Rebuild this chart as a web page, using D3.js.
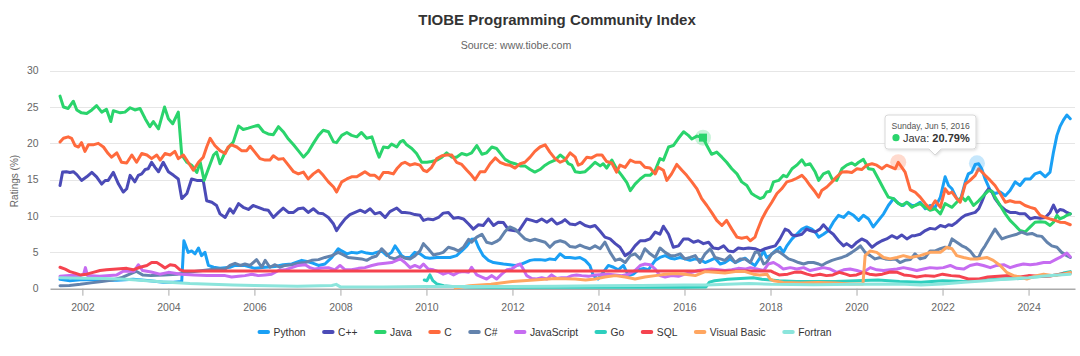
<!DOCTYPE html>
<html><head><meta charset="utf-8">
<script src="https://cdn.jsdelivr.net/npm/d3@7"></script>
<style>
body{margin:0;background:#fff;}
svg{display:block;font-family:"Liberation Sans",Arial,Helvetica,sans-serif;}
</style></head><body>
<svg id="chart" width="1080" height="356"></svg>
<script>
// ---------------- DATA (decimal year, rating %) ----------------
const seriesNames = ["Python","C++","Java","C","C#","JavaScript","Go","SQL","Visual Basic","Fortran"];

const python = [[2001.48,1.3],[2001.71,1.1],[2002.02,1.25],[2002.41,1.15],[2002.80,1.15],[2003.18,1.3],[2003.57,1.1],[2003.88,0.9],[2004.12,0.9],[2004.31,1.0],[2004.36,6.6],[2004.46,5.0],[2004.54,5.2],[2004.62,4.8],[2004.70,5.6],[2004.77,4.55],[2004.85,5.0],[2004.93,3.2],[2005.05,2.95],[2005.20,2.8],[2005.43,2.95],
[2005.55,3.2],[2005.78,3.2],[2006.01,2.8],[2006.25,2.95],[2006.48,3.05],[2006.67,3.3],[2006.87,3.4],[2007.10,3.9],[2007.25,3.7],[2007.37,3.5],[2007.49,3.2],[2007.64,3.4],[2007.80,4.3],[2007.95,5.5],[2008.03,5.2],[2008.15,4.8],[2008.26,5.0],[2008.38,4.9],[2008.49,5.1],[2008.61,4.9],[2008.73,4.8],[2008.84,5.0],[2008.96,5.2],[2009.08,4.55],[2009.19,5.0],[2009.27,5.9],[2009.35,5.2],[2009.42,4.55],[2009.50,4.3],
[2009.62,4.3],[2009.73,5.0],[2009.85,4.8],[2009.97,4.3],[2010.08,4.2],[2010.24,4.3],[2010.39,4.3],[2010.55,4.3],[2010.70,4.55],[2010.82,5.2],[2010.94,5.9],[2011.05,6.8],[2011.13,6.85],[2011.21,5.7],[2011.32,4.55],[2011.44,3.9],[2011.56,3.6],[2011.67,3.5],[2011.79,3.4],[2011.94,3.3],[2012.06,3.2],[2012.18,3.3],[2012.29,3.6],[2012.41,3.9],[2012.52,4.0],[2012.64,4.0],[2012.76,3.9],[2012.87,4.1],[2012.99,4.0],[2013.11,4.8],[2013.22,4.3],[2013.34,4.3],[2013.46,4.2],
[2013.57,4.3],[2013.69,3.9],[2013.80,3.2],[2013.88,1.8],[2013.99,1.33],[2014.11,2.25],[2014.23,3.2],[2014.35,2.95],[2014.46,2.6],[2014.58,3.2],[2014.70,1.8],[2014.81,2.0],[2014.93,2.6],[2015.05,2.8],[2015.16,2.6],[2015.32,3.9],[2015.43,4.3],[2015.55,4.55],[2015.67,4.2],[2015.78,4.1],[2015.90,4.3],[2016.01,4.1],[2016.13,3.9],[2016.25,4.1],[2016.36,4.0],[2016.48,3.6],[2016.60,3.9],[2016.71,4.2],[2016.83,3.4],[2016.94,3.6],[2017.06,4.1],[2017.18,3.6],[2017.29,3.9],[2017.41,4.2],[2017.53,3.6],[2017.64,3.2],
[2017.76,4.3],[2017.84,5.2],[2017.91,4.3],[2017.99,4.55],[2018.11,5.2],[2018.22,5.7],[2018.30,5.0],[2018.38,5.9],[2018.50,6.85],[2018.61,7.5],[2018.73,8.2],[2018.84,8.5],[2018.96,8.2],[2019.04,7.8],[2019.12,7.1],[2019.23,7.5],[2019.35,8.0],[2019.46,9.15],[2019.58,10.1],[2019.70,9.8],[2019.81,10.5],[2019.93,10.1],[2020.05,9.4],[2020.16,10.1],[2020.28,9.6],[2020.39,8.5],[2020.51,9.4],[2020.63,10.3],[2020.74,11.45],[2020.86,12.4],[2020.98,11.7],[2021.09,11.45],[2021.17,11.9],[2021.29,11.45],
[2021.36,11.45],[2021.48,11.9],[2021.60,11.0],[2021.71,11.45],[2021.83,11.2],[2021.95,12.6],[2022.06,15.4],[2022.14,14.2],[2022.22,13.75],[2022.33,12.4],[2022.41,12.1],[2022.53,14.7],[2022.60,15.8],[2022.68,16.05],[2022.76,17.1],[2022.84,17.2],[2022.91,16.5],[2022.99,15.1],[2023.11,13.5],[2023.22,13.1],[2023.34,13.3],[2023.46,12.8],[2023.57,13.5],[2023.69,14.7],[2023.80,14.2],[2023.92,15.1],[2024.04,15.1],[2024.15,15.8],[2024.27,16.05],[2024.39,15.4],[2024.50,16.05],[2024.58,18.8],[2024.66,21.1],[2024.73,22.3],[2024.81,23.2],[2024.89,23.9],[2024.97,23.4]];

const cpp = [[2001.48,14.2],[2001.54,16.05],[2001.63,16.1],[2001.71,16.0],[2001.79,16.1],[2001.87,15.7],[2001.98,14.9],[2002.10,15.4],[2002.22,16.0],[2002.33,15.4],[2002.45,14.4],[2002.53,14.9],[2002.60,14.9],[2002.72,16.0],[2002.84,14.4],[2002.95,13.3],[2003.03,13.75],[2003.11,15.6],[2003.22,14.7],[2003.30,15.6],[2003.38,15.8],[2003.46,16.4],[2003.53,16.5],[2003.61,17.4],[2003.69,16.7],[2003.77,16.1],[2003.88,17.4],[2004.0,16.1],[2004.12,15.6],[2004.23,15.1],[2004.31,12.4],[2004.43,13.1],[2004.54,15.1],[2004.66,14.9],[2004.81,14.9],[2004.89,12.1],[2005.01,11.9],[2005.12,11.45],[2005.20,10.3],[2005.32,9.8],
[2005.43,11.0],[2005.51,10.4],[2005.63,11.7],[2005.74,11.2],[2005.86,10.9],[2005.97,11.45],[2006.09,11.2],[2006.21,10.9],[2006.32,10.8],[2006.44,9.8],[2006.56,10.5],[2006.67,11.1],[2006.79,10.5],[2006.91,10.5],[2007.02,11.0],[2007.14,11.1],[2007.25,10.5],[2007.37,11.0],[2007.49,10.4],[2007.60,10.3],[2007.72,9.8],[2007.84,8.9],[2007.91,8.0],[2007.99,8.7],[2008.11,9.6],[2008.22,10.2],[2008.34,10.5],[2008.46,10.8],[2008.57,10.5],[2008.69,11.0],[2008.80,10.3],[2008.92,10.5],[2009.04,9.8],[2009.15,10.6],[2009.31,11.1],[2009.42,10.5],
[2009.50,10.5],[2009.62,10.4],[2009.73,10.2],[2009.85,10.1],[2009.93,9.4],[2010.04,9.6],[2010.16,9.5],[2010.28,9.8],[2010.39,10.4],[2010.51,10.5],[2010.63,9.7],[2010.74,9.8],[2010.86,9.6],[2010.98,8.9],[2011.09,8.2],[2011.21,8.8],[2011.32,8.7],[2011.44,9.6],[2011.56,8.7],[2011.67,9.15],[2011.79,9.1],[2011.91,8.1],[2012.02,8.0],[2012.14,7.9],[2012.21,8.5],[2012.33,9.6],[2012.45,9.4],[2012.56,9.2],[2012.68,9.6],[2012.80,9.15],[2012.91,9.6],[2013.03,8.9],[2013.14,9.15],[2013.22,9.5],[2013.34,8.9],[2013.46,8.8],
[2013.57,9.15],[2013.69,8.7],[2013.80,8.5],[2013.92,8.7],[2014.04,7.9],[2014.15,7.1],[2014.27,6.85],[2014.39,6.2],[2014.50,5.7],[2014.62,4.55],[2014.74,5.0],[2014.85,5.9],[2014.97,6.6],[2015.08,6.6],[2015.20,6.85],[2015.32,7.8],[2015.43,7.5],[2015.51,8.6],[2015.63,7.5],[2015.74,5.7],[2015.86,5.9],[2015.98,6.85],[2016.09,6.85],[2016.21,6.4],[2016.32,6.6],[2016.44,6.2],[2016.56,6.4],[2016.67,5.6],[2016.79,5.5],[2016.91,5.9],[2017.02,5.2],[2017.14,5.1],[2017.25,5.6],[2017.37,5.5],[2017.49,5.6],[2017.64,5.5],
[2017.76,5.2],[2017.87,5.5],[2017.99,5.7],[2018.11,5.9],[2018.22,6.85],[2018.34,8.2],[2018.42,8.0],[2018.50,7.4],[2018.61,7.3],[2018.73,7.5],[2018.84,8.2],[2018.92,8.0],[2019.04,7.8],[2019.15,8.2],[2019.23,8.8],[2019.35,8.0],[2019.46,7.5],[2019.58,6.6],[2019.70,5.9],[2019.77,6.2],[2019.89,5.7],[2020.01,6.4],[2020.12,6.85],[2020.24,6.5],[2020.36,5.7],[2020.47,6.2],[2020.59,6.6],[2020.70,6.85],[2020.82,7.3],[2020.94,6.95],[2021.05,7.4],[2021.17,6.85],[2021.29,7.3],
[2021.36,7.3],[2021.48,7.5],[2021.60,8.0],[2021.71,8.3],[2021.83,8.2],[2021.95,8.7],[2022.06,8.5],[2022.14,8.8],[2022.22,8.7],[2022.33,9.15],[2022.45,9.8],[2022.53,10.1],[2022.64,10.3],[2022.76,10.5],[2022.84,11.0],[2022.91,11.9],[2022.99,13.1],[2023.07,13.75],[2023.15,13.3],[2023.22,12.4],[2023.34,11.45],[2023.46,10.8],[2023.57,10.5],[2023.69,10.5],[2023.80,10.3],[2023.92,10.3],[2024.04,9.6],[2024.15,9.8],[2024.27,9.7],[2024.39,9.8],[2024.50,10.5],[2024.58,11.5],[2024.66,10.5],[2024.73,10.9],[2024.81,10.8],[2024.89,10.5],[2024.97,10.3]];

const java = [[2001.48,26.5],[2001.56,25.0],[2001.67,24.8],[2001.79,25.8],[2001.87,24.6],[2001.98,24.2],[2002.10,24.1],[2002.22,24.6],[2002.33,25.2],[2002.45,24.3],[2002.56,24.7],[2002.66,23.0],[2002.72,24.5],[2002.88,24.2],[2002.99,24.3],[2003.11,24.9],[2003.22,24.6],[2003.34,24.8],[2003.46,23.4],[2003.57,22.3],[2003.65,23.0],[2003.77,22.0],[2003.91,25.0],[2004.0,23.4],[2004.10,22.7],[2004.23,24.3],[2004.31,18.4],[2004.43,17.4],[2004.54,17.0],[2004.66,16.0],[2004.74,17.4],[2004.83,14.9],[2004.93,16.5],[2005.05,18.4],[2005.12,18.8],[2005.20,17.2],[2005.32,18.8],[2005.43,19.7],
[2005.51,20.2],[2005.63,22.4],[2005.74,21.9],[2005.86,22.1],[2005.97,22.3],[2006.09,22.5],[2006.21,21.6],[2006.32,21.3],[2006.44,21.2],[2006.56,22.3],[2006.67,21.6],[2006.79,20.6],[2006.91,19.8],[2007.02,19.0],[2007.14,18.1],[2007.25,18.8],[2007.37,20.0],[2007.49,21.1],[2007.60,21.8],[2007.72,21.6],[2007.84,20.2],[2007.91,20.1],[2008.03,21.1],[2008.15,21.5],[2008.26,21.1],[2008.38,20.9],[2008.49,21.5],[2008.61,20.7],[2008.73,20.9],[2008.84,19.0],[2008.90,18.1],[2009.0,19.5],[2009.11,19.4],[2009.19,19.9],[2009.31,19.5],[2009.39,20.2],
[2009.46,20.4],[2009.54,19.8],[2009.66,19.3],[2009.77,18.6],[2009.89,17.4],[2010.01,17.4],[2010.12,17.5],[2010.24,17.7],[2010.36,18.1],[2010.47,18.7],[2010.59,18.1],[2010.70,18.1],[2010.82,18.6],[2010.94,18.4],[2011.05,18.7],[2011.17,19.7],[2011.29,18.5],[2011.40,18.7],[2011.52,19.5],[2011.63,19.3],[2011.71,18.7],[2011.83,17.8],[2011.94,17.4],[2012.06,17.2],[2012.18,16.9],[2012.29,16.9],[2012.41,16.4],[2012.52,16.05],[2012.64,16.4],[2012.76,17.0],[2012.87,17.4],[2012.99,17.7],[2013.11,18.4],[2013.22,17.9],[2013.30,17.2],[2013.38,17.0],[2013.46,16.1],
[2013.57,16.0],[2013.69,16.1],[2013.80,16.7],[2013.92,17.4],[2014.04,16.9],[2014.11,17.2],[2014.19,16.6],[2014.31,17.7],[2014.42,16.5],[2014.54,15.6],[2014.66,14.6],[2014.74,13.5],[2014.85,14.4],[2014.97,15.1],[2015.08,15.6],[2015.20,15.6],[2015.32,16.3],[2015.43,17.9],[2015.51,17.7],[2015.63,19.5],[2015.74,19.7],[2015.86,20.7],[2015.98,21.6],[2016.09,21.1],[2016.17,20.6],[2016.29,21.0],[2016.43,20.79],[2016.52,19.7],[2016.63,18.5],[2016.75,18.8],[2016.87,18.1],[2016.98,17.4],[2017.10,16.5],[2017.22,15.8],[2017.33,14.7],[2017.45,14.2],[2017.56,13.1],
[2017.64,12.8],[2017.76,12.4],[2017.84,12.6],[2017.91,13.3],[2017.99,13.4],[2018.07,14.7],[2018.19,14.9],[2018.30,15.6],[2018.38,15.4],[2018.50,16.5],[2018.61,17.0],[2018.73,17.75],[2018.81,17.0],[2018.92,17.2],[2019.04,16.05],[2019.12,14.9],[2019.23,15.8],[2019.35,16.1],[2019.43,15.1],[2019.54,14.9],[2019.66,16.5],[2019.77,17.0],[2019.89,17.3],[2019.97,17.0],[2020.05,17.4],[2020.16,17.8],[2020.28,16.5],[2020.39,16.4],[2020.51,15.1],[2020.63,13.75],[2020.74,12.6],[2020.86,12.4],[2020.94,11.9],[2021.05,11.45],[2021.17,11.9],[2021.29,11.2],
[2021.36,11.45],[2021.48,11.7],[2021.60,11.2],[2021.71,10.8],[2021.83,11.0],[2021.95,10.3],[2022.06,11.7],[2022.14,11.45],[2022.22,11.2],[2022.33,11.9],[2022.45,12.6],[2022.53,12.1],[2022.60,12.6],[2022.72,11.45],[2022.84,12.1],[2022.95,12.8],[2023.07,13.5],[2023.15,13.4],[2023.22,12.6],[2023.34,11.45],[2023.46,10.3],[2023.57,9.4],[2023.69,8.7],[2023.80,8.0],[2023.92,7.8],[2024.04,8.5],[2024.15,9.15],[2024.27,9.2],[2024.39,9.15],[2024.50,8.7],[2024.58,9.15],[2024.66,10.1],[2024.73,9.6],[2024.81,9.8],[2024.89,10.1],[2024.97,10.3]];

const cLang = [[2001.48,20.2],[2001.56,20.7],[2001.67,20.9],[2001.75,20.7],[2001.83,19.7],[2001.91,19.5],[2001.98,20.1],[2002.06,18.9],[2002.14,19.8],[2002.25,19.8],[2002.37,20.0],[2002.49,19.5],[2002.60,18.6],[2002.68,18.1],[2002.80,18.7],[2002.91,17.4],[2003.03,17.3],[2003.15,18.4],[2003.26,17.4],[2003.38,18.6],[2003.50,18.4],[2003.61,17.9],[2003.73,18.4],[2003.81,17.7],[2003.92,18.6],[2004.04,18.4],[2004.15,18.9],[2004.23,17.9],[2004.35,18.4],[2004.46,17.4],[2004.58,16.3],[2004.70,17.4],[2004.81,18.1],[2004.89,19.5],[2004.97,20.7],[2005.08,19.7],[2005.20,19.0],[2005.32,18.6],
[2005.39,19.5],[2005.47,19.8],[2005.59,19.5],[2005.70,19.0],[2005.82,19.0],[2005.90,19.6],[2006.01,18.8],[2006.13,17.9],[2006.25,17.7],[2006.36,17.7],[2006.44,18.3],[2006.56,17.8],[2006.67,17.9],[2006.79,17.0],[2006.91,16.1],[2007.02,15.8],[2007.14,16.05],[2007.25,15.1],[2007.37,15.8],[2007.49,16.3],[2007.60,15.6],[2007.72,14.7],[2007.84,14.0],[2007.91,13.3],[2008.03,14.7],[2008.15,15.1],[2008.26,15.4],[2008.38,15.4],[2008.49,15.8],[2008.57,16.1],[2008.69,15.6],[2008.80,15.6],[2008.90,15.1],[2009.0,16.0],[2009.11,16.0],[2009.23,15.8],[2009.31,16.5],[2009.42,17.2],
[2009.50,17.4],[2009.62,17.0],[2009.73,17.2],[2009.85,17.0],[2009.93,16.3],[2010.01,16.1],[2010.12,16.7],[2010.24,17.9],[2010.36,18.3],[2010.47,18.4],[2010.59,18.4],[2010.70,17.4],[2010.82,17.1],[2010.94,16.3],[2011.05,15.6],[2011.13,15.0],[2011.25,16.1],[2011.36,16.1],[2011.48,17.2],[2011.60,18.0],[2011.71,17.4],[2011.83,17.1],[2011.94,17.0],[2012.06,16.6],[2012.18,17.2],[2012.29,17.4],[2012.41,18.1],[2012.52,18.9],[2012.64,19.5],[2012.76,19.8],[2012.87,18.8],[2012.99,17.9],[2013.11,17.4],[2013.22,17.7],[2013.34,18.7],[2013.46,18.1],
[2013.53,17.0],[2013.61,17.2],[2013.73,18.1],[2013.84,18.0],[2013.96,18.4],[2014.08,18.4],[2014.19,17.5],[2014.31,17.3],[2014.42,16.05],[2014.50,17.0],[2014.62,16.7],[2014.74,17.7],[2014.85,17.4],[2014.97,17.4],[2015.08,16.7],[2015.20,16.6],[2015.32,15.8],[2015.39,16.7],[2015.51,16.3],[2015.59,14.9],[2015.70,15.8],[2015.82,17.1],[2015.94,16.3],[2016.05,15.6],[2016.17,14.7],[2016.29,13.75],[2016.40,12.4],[2016.52,11.45],[2016.63,10.5],[2016.75,9.4],[2016.87,8.7],[2016.98,9.4],[2017.10,8.2],[2017.22,7.1],[2017.33,6.95],[2017.45,7.1],[2017.53,6.6],[2017.64,7.1],
[2017.68,7.8],[2017.80,9.6],[2017.91,10.8],[2018.03,11.9],[2018.15,13.1],[2018.26,13.75],[2018.38,14.7],[2018.50,14.9],[2018.61,15.2],[2018.73,15.6],[2018.81,15.1],[2018.92,14.2],[2019.04,13.3],[2019.12,12.6],[2019.19,13.5],[2019.31,14.0],[2019.43,14.7],[2019.54,15.4],[2019.66,16.05],[2019.77,16.1],[2019.89,16.0],[2020.01,16.5],[2020.12,16.4],[2020.24,17.0],[2020.36,17.2],[2020.47,17.0],[2020.59,16.5],[2020.70,17.0],[2020.82,16.7],[2020.90,16.5],[2020.97,17.4],[2021.13,16.05],[2021.25,13.6],
[2021.36,13.3],[2021.48,12.6],[2021.60,11.7],[2021.71,11.0],[2021.83,12.1],[2021.95,11.2],[2022.06,13.75],[2022.14,13.1],[2022.22,13.3],[2022.33,12.4],[2022.41,11.9],[2022.53,14.4],[2022.64,14.9],[2022.76,15.6],[2022.84,16.5],[2022.91,16.1],[2022.99,15.6],[2023.11,14.9],[2023.22,14.2],[2023.34,13.1],[2023.46,11.9],[2023.57,12.1],[2023.69,11.9],[2023.80,11.9],[2023.92,11.45],[2024.04,11.2],[2024.15,11.0],[2024.27,10.1],[2024.39,9.8],[2024.50,9.6],[2024.62,9.4],[2024.73,9.15],[2024.85,9.1],[2024.97,8.8]];

const csharp = [[2001.48,0.4],[2001.70,0.45],[2001.95,0.6],[2002.20,0.8],[2002.45,1.0],[2002.70,1.2],[2002.90,1.5],[2003.10,2.0],[2003.25,2.4],[2003.40,1.9],[2003.60,1.8],[2003.90,1.9],[2004.20,2.0],[2004.50,2.3],[2004.80,2.5],[2005.10,2.7],[2005.32,2.7],
[2005.43,3.2],[2005.55,3.5],[2005.67,3.2],[2005.78,3.4],[2005.90,3.2],[2006.05,4.0],[2006.17,2.95],[2006.25,3.9],[2006.36,2.95],[2006.48,3.3],[2006.59,2.95],[2006.71,3.2],[2006.87,3.3],[2007.02,3.5],[2007.18,3.6],[2007.33,3.9],[2007.49,4.0],[2007.64,4.3],[2007.80,4.55],[2007.95,5.0],[2008.07,4.65],[2008.18,4.3],[2008.34,4.2],[2008.49,4.1],[2008.61,3.9],[2008.73,4.3],[2008.84,4.5],[2008.96,5.5],[2009.04,5.0],[2009.15,4.3],[2009.27,4.1],[2009.39,4.5],
[2009.50,4.2],[2009.62,4.1],[2009.73,4.5],[2009.85,5.2],[2009.93,6.2],[2010.04,5.5],[2010.16,4.65],[2010.28,4.8],[2010.39,5.0],[2010.51,5.7],[2010.63,5.5],[2010.74,5.2],[2010.86,5.7],[2010.98,6.8],[2011.05,6.4],[2011.17,7.1],[2011.29,7.5],[2011.40,6.4],[2011.52,6.2],[2011.63,6.5],[2011.71,6.85],[2011.83,7.9],[2011.94,8.5],[2012.06,8.2],[2012.18,7.5],[2012.29,6.85],[2012.41,6.6],[2012.52,6.8],[2012.64,6.6],[2012.76,6.4],[2012.87,5.7],[2012.99,6.4],[2013.11,6.6],[2013.22,6.4],[2013.34,5.8],[2013.46,5.7],
[2013.57,6.0],[2013.69,5.7],[2013.80,5.5],[2013.92,5.9],[2014.04,5.5],[2014.15,6.4],[2014.27,5.0],[2014.39,3.9],[2014.50,4.1],[2014.62,3.6],[2014.74,4.55],[2014.85,4.8],[2014.97,4.1],[2015.08,5.5],[2015.20,4.8],[2015.32,4.3],[2015.43,5.6],[2015.55,5.0],[2015.67,4.55],[2015.78,4.55],[2015.90,4.8],[2016.01,4.1],[2016.13,4.3],[2016.25,4.55],[2016.36,3.6],[2016.48,4.8],[2016.60,5.5],[2016.71,4.3],[2016.83,4.1],[2016.94,3.9],[2017.06,4.55],[2017.18,3.6],[2017.29,4.1],[2017.41,4.1],[2017.53,3.6],[2017.64,5.0],
[2017.72,5.0],[2017.84,3.4],[2017.91,3.6],[2018.03,4.8],[2018.15,5.2],[2018.22,5.0],[2018.30,4.65],[2018.42,4.1],[2018.53,3.9],[2018.65,3.6],[2018.77,3.4],[2018.88,3.6],[2019.00,3.6],[2019.12,3.4],[2019.19,3.2],[2019.31,3.6],[2019.43,3.9],[2019.54,4.1],[2019.66,4.3],[2019.77,4.55],[2019.89,5.0],[2020.01,5.5],[2020.09,5.9],[2020.20,5.0],[2020.32,4.55],[2020.43,4.1],[2020.55,4.3],[2020.67,4.1],[2020.78,4.0],[2020.90,4.1],[2021.01,3.6],[2021.13,3.9],[2021.25,4.0],
[2021.36,4.8],[2021.48,4.1],[2021.60,4.3],[2021.71,5.2],[2021.83,5.2],[2021.95,5.5],[2022.06,5.7],[2022.14,5.6],[2022.22,6.85],[2022.33,6.4],[2022.45,5.9],[2022.53,5.7],[2022.64,5.2],[2022.76,4.3],[2022.84,4.3],[2022.91,5.2],[2022.99,5.9],[2023.11,7.1],[2023.22,8.2],[2023.30,7.5],[2023.38,6.85],[2023.49,7.1],[2023.61,7.3],[2023.73,7.5],[2023.84,7.8],[2023.96,7.5],[2024.08,7.6],[2024.19,7.3],[2024.31,7.2],[2024.43,6.4],[2024.54,5.9],[2024.66,5.7],[2024.77,5.0],[2024.89,4.55],[2024.97,4.3]];

const javascript = [[2001.48,1.7],[2001.70,1.8],[2001.95,1.8],[2002.03,2.0],[2002.07,2.9],[2002.12,1.8],[2002.40,1.7],[2002.80,1.9],[2002.95,2.4],[2003.20,2.4],[2003.30,3.3],[2003.40,2.5],[2003.60,2.3],[2003.80,2.0],[2004.00,2.25],[2004.30,2.0],[2004.60,1.9],[2004.90,1.8],[2005.20,1.8],
[2005.32,1.8],[2005.47,1.6],[2005.63,1.7],[2005.78,1.8],[2005.94,2.0],[2006.09,1.8],[2006.25,1.9],[2006.40,2.0],[2006.56,2.5],[2006.71,2.6],[2006.87,2.9],[2007.02,3.2],[2007.18,3.3],[2007.29,2.9],[2007.41,2.7],[2007.56,2.85],[2007.72,2.9],[2007.87,2.6],[2007.99,3.2],[2008.11,2.6],[2008.26,2.6],[2008.42,2.8],[2008.57,2.9],[2008.73,3.2],[2008.88,3.4],[2009.04,3.5],[2009.19,3.6],[2009.31,3.9],
[2009.39,4.1],[2009.50,3.6],[2009.62,2.9],[2009.73,3.2],[2009.85,2.9],[2009.93,3.4],[2010.04,2.7],[2010.16,2.6],[2010.28,2.35],[2010.39,2.0],[2010.51,2.25],[2010.63,1.9],[2010.74,2.25],[2010.86,2.35],[2010.98,2.25],[2011.05,2.95],[2011.17,1.9],[2011.29,1.6],[2011.40,1.33],[2011.52,1.8],[2011.63,1.33],[2011.75,2.0],[2011.87,2.6],[2011.98,2.7],[2012.10,3.2],[2012.18,3.4],[2012.26,2.6],[2012.33,1.8],[2012.45,1.4],[2012.56,1.33],[2012.68,1.5],[2012.80,1.33],[2012.91,1.9],[2013.03,1.4],[2013.14,1.5],[2013.26,1.5],[2013.38,1.8],[2013.49,1.9],
[2013.61,1.8],[2013.77,1.7],[2013.92,1.9],[2014.23,2.0],[2014.54,1.8],[2014.70,2.0],[2014.85,2.5],[2014.97,3.2],[2015.08,3.4],[2015.20,3.3],[2015.32,2.7],[2015.43,1.8],[2015.55,1.6],[2015.70,1.8],[2015.86,1.7],[2016.01,2.0],[2016.17,2.25],[2016.32,2.5],[2016.48,2.6],[2016.63,2.7],[2016.79,2.6],[2016.94,2.5],[2017.10,2.6],[2017.25,2.8],[2017.41,2.7],[2017.53,2.9],
[2017.68,2.7],[2017.84,2.5],[2017.95,3.4],[2018.07,3.6],[2018.19,3.2],[2018.30,2.7],[2018.46,2.9],[2018.61,2.7],[2018.77,2.9],[2018.92,2.5],[2019.08,2.7],[2019.23,2.9],[2019.39,2.7],[2019.54,2.25],[2019.70,2.6],[2019.85,2.7],[2020.01,2.5],[2020.16,2.25],[2020.32,2.9],[2020.47,2.6],[2020.63,2.5],[2020.78,2.6],[2020.94,2.7],[2021.09,2.9],[2021.25,2.7],
[2021.40,2.5],[2021.56,2.7],[2021.71,2.9],[2021.87,2.8],[2022.02,2.9],[2022.18,3.2],[2022.33,2.8],[2022.49,2.7],[2022.64,3.2],[2022.80,3.4],[2022.95,3.2],[2023.11,2.9],[2023.26,3.2],[2023.42,3.3],[2023.57,2.9],[2023.73,3.2],[2023.88,3.4],[2024.04,3.3],[2024.19,3.4],[2024.35,3.6],[2024.50,3.6],[2024.66,4.1],[2024.73,4.3],[2024.81,4.6],[2024.89,4.9],[2024.97,4.4]];

const go = [[2009.95,1.2],[2010.01,1.1],[2010.08,1.9],[2010.15,1.1],[2010.24,0.65],[2010.40,0.4],[2010.60,0.3],[2011.0,0.25],[2011.5,0.2],[2012.0,0.2],[2013.0,0.2],[2014.0,0.2],[2015.0,0.2],[2016.0,0.2],[2016.50,0.25],[2016.58,0.9],[2016.70,1.1],[2017.0,1.3],[2017.3,1.4],[2017.6,1.5],[2017.8,1.3],[2018.2,1.1],[2018.6,1.0],[2019.0,1.0],[2019.5,1.0],[2020.0,1.1],[2020.5,1.2],[2021.0,1.0],[2021.5,0.9],[2022.0,1.1],[2022.5,1.0],[2023.0,1.2],[2023.4,1.33],[2023.8,1.4],[2024.1,1.6],[2024.4,1.7],[2024.66,1.9],[2024.81,2.15],[2024.97,2.35]];

const sql = [[2001.48,2.95],[2001.60,2.7],[2001.71,2.35],[2001.83,2.15],[2001.95,1.9],[2002.10,2.0],[2002.25,2.25],[2002.41,2.5],[2002.56,2.6],[2002.80,2.7],[2003.03,2.8],[2003.18,2.6],[2003.34,2.95],[2003.50,3.2],[2003.61,3.6],[2003.73,3.6],[2003.84,3.2],[2003.92,2.85],[2004.04,3.3],[2004.15,3.2],[2004.27,2.6],[2004.35,2.45],[2018.0,2.45],[2018.07,2.25],[2018.20,1.9],[2018.40,2.0],[2018.55,2.25],[2018.70,2.3],[2018.85,2.0],[2018.98,1.8],[2019.15,2.0],[2019.30,1.8],[2019.45,1.9],[2019.60,2.25],[2019.75,2.0],[2019.85,1.8],[2020.0,1.9],[2020.16,2.25],[2020.30,2.0],[2020.45,1.9],[2020.60,2.0],[2020.78,2.3],[2020.95,2.25],[2021.10,1.9],[2021.25,1.8],[2021.40,1.6],[2021.60,1.8],[2021.80,1.7],[2022.0,2.0],[2022.20,1.8],[2022.40,1.7],[2022.60,1.33],[2022.85,1.33],[2023.05,1.6],[2023.30,1.7],[2023.55,1.8],[2023.80,1.6],[2024.0,1.8],[2024.25,1.7],[2024.50,1.75],[2024.73,2.0],[2024.97,2.15]];

const visualBasic = [[2010.67,0.1],[2011.0,0.4],[2011.5,0.6],[2012.0,1.0],[2012.5,1.2],[2013.0,1.4],[2013.46,1.33],[2013.70,1.2],[2013.92,1.33],[2014.15,1.6],[2014.39,1.8],[2014.62,1.6],[2014.85,1.33],[2015.08,1.6],[2015.32,1.8],[2015.55,2.0],[2015.78,2.1],[2016.01,2.0],[2016.25,1.8],[2016.48,2.35],[2016.71,2.25],[2016.94,2.15],[2017.18,2.35],[2017.41,2.35],[2017.60,2.0],[2017.75,1.9],[2017.92,2.0],[2017.99,1.33],[2018.07,1.1],[2018.30,0.87],[2018.70,0.8],[2019.10,0.87],[2019.50,0.8],[2019.85,0.65],[2020.15,0.65],[2020.20,4.55],[2020.32,5.2],[2020.47,5.0],[2020.63,4.3],[2020.78,4.1],[2020.94,4.3],[2021.09,4.55],[2021.25,4.3],[2021.48,4.55],[2021.71,5.0],[2021.95,5.0],[2022.10,5.7],[2022.22,5.5],[2022.33,4.55],[2022.49,4.3],[2022.64,4.1],[2022.80,4.1],[2023.03,4.3],[2023.18,3.9],[2023.34,3.2],[2023.49,2.25],[2023.65,1.8],[2023.80,1.6],[2023.96,1.33],[2024.19,1.8],[2024.35,2.0],[2024.58,1.8],[2024.81,2.0],[2024.97,2.25]];

const fortran = [[2001.48,1.5],[2002.0,1.45],[2002.5,1.4],[2003.0,1.3],[2003.5,1.1],[2004.0,0.9],[2004.5,0.7],[2005.0,0.6],[2005.5,0.5],[2006.0,0.45],[2007.0,0.35],[2007.8,0.45],[2007.9,0.6],[2008.0,0.25],[2009.0,0.25],[2010.0,0.3],[2011.0,0.3],[2012.0,0.3],[2013.0,0.35],[2014.0,0.4],[2015.0,0.45],[2016.0,0.5],[2016.5,0.5],[2017.0,0.6],[2017.5,0.7],[2018.0,0.6],[2019.0,0.55],[2020.0,0.6],[2021.0,0.65],[2021.5,0.5],[2022.0,0.65],[2022.5,0.9],[2023.0,1.1],[2023.5,1.33],[2024.0,1.5],[2024.3,1.7],[2024.6,1.85],[2024.97,2.0]];

const seriesValues = [python, cpp, java, cLang, csharp, javascript, go, sql, visualBasic, fortran];

const yTickValues = [0,5,10,15,20,25,30];
const xTickYears = [2002,2004,2006,2008,2010,2012,2014,2016,2018,2020,2022,2024];

const titleText = "TIOBE Programming Community Index";
const subtitleText = "Source: www.tiobe.com";
const yAxisTitle = "Ratings (%)";

// hover state shown in the picture
const tooltipHeader = "Sunday, Jun 5, 2016";
const tooltipSeries = "Java";
const tooltipT = 2016.43;
const tooltipValue = 20.79;
const haloPoints = [{name:"C", t:2020.97, v:17.4},{name:"Python", t:2022.80, v:17.25}];

// ---------------- STYLE / LAYOUT ----------------
const colors = ["#1aa0f5","#4b4bb7","#2ad46c","#ff6a3d","#6383ad","#c66cf1","#2dcfbe","#f5434f","#ffa660","#8be5dc"];
const plot = {left:50, right:1075, top:70.7, bottom:288.7};
const xDomain = [2001.247, 2025.08];

const svg = d3.select("#chart");
const x = d3.scaleLinear().domain(xDomain).range([plot.left, plot.right]);
const y = d3.scaleLinear().domain([0,30]).range([plot.bottom, plot.top]);

// title
svg.append("text").attr("x",557).attr("y",25).attr("text-anchor","middle")
  .attr("font-size",15).attr("font-weight","bold").attr("fill","#333").text(titleText);
svg.append("text").attr("x",516).attr("y",48.5).attr("text-anchor","middle")
  .attr("font-size",10.6).attr("fill","#666").text(subtitleText);

// grid
const gGrid = svg.append("g");
gGrid.selectAll("line").data(yTickValues.filter(d=>d>0)).join("line")
  .attr("x1",plot.left).attr("x2",plot.right)
  .attr("y1",d=>Math.round(y(d))+0.5).attr("y2",d=>Math.round(y(d))+0.5)
  .attr("stroke","#e6e6e6").attr("stroke-width",1);

// y axis labels
svg.append("g").selectAll("text").data(yTickValues).join("text")
  .attr("x",38.5).attr("y",d=>y(d)+3.7).attr("text-anchor","end")
  .attr("font-size",10.4).attr("fill","#666").text(d=>d);
svg.append("text").attr("transform","translate(18,181) rotate(-90)")
  .attr("text-anchor","middle").attr("font-size",10).attr("fill","#666").text(yAxisTitle);

// x axis
const xAxis = d3.axisBottom(x).tickValues(xTickYears).tickFormat(d3.format("d")).tickSize(7).tickSizeOuter(0);
const gx = svg.append("g").attr("transform",`translate(0,${plot.bottom})`).call(xAxis);
gx.select(".domain").attr("stroke","#aaaaaa").attr("stroke-width",1.5);
gx.selectAll(".tick line").attr("stroke","#aaaaaa");
gx.selectAll(".tick text").attr("font-size",10.5).attr("fill","#666")
  .attr("font-family","Liberation Sans, Arial, sans-serif").attr("dy","1.15em");

// lines
const line = d3.line().x(d=>x(d[0])).y(d=>y(d[1]));
const gLines = svg.append("g");
seriesValues.forEach((vals,i)=>{
  gLines.append("path").datum(vals).attr("d",line)
    .attr("fill","none").attr("stroke",colors[i]).attr("stroke-width",3)
    .attr("stroke-linejoin","round").attr("stroke-linecap","round");
});

// halos
haloPoints.forEach(p=>{
  const i = seriesNames.indexOf(p.name);
  svg.append("circle").attr("cx",x(p.t)).attr("cy",y(p.v)).attr("r",8)
    .attr("fill",colors[i]).attr("fill-opacity",0.25);
});
// Java hover marker
{
  const i = seriesNames.indexOf(tooltipSeries);
  const cx = x(tooltipT), cy = y(tooltipValue);
  svg.append("circle").attr("cx",cx).attr("cy",cy).attr("r",8).attr("fill",colors[i]).attr("fill-opacity",0.25);
  svg.append("rect").attr("x",cx-4).attr("y",cy-4).attr("width",8).attr("height",8).attr("fill",colors[i]);
}

// tooltip
const defs = svg.append("defs");
const f = defs.append("filter").attr("id","sh").attr("x","-20%").attr("y","-20%").attr("width","140%").attr("height","150%");
f.append("feDropShadow").attr("dx",1).attr("dy",1).attr("stdDeviation",1.5).attr("flood-color","#000").attr("flood-opacity",0.15);
const tt = svg.append("g");
const tx=885, ty=115, tw=91, th=34, ax=935;
tt.append("path")
  .attr("d",`M${tx+3},${ty} H${tx+tw-3} Q${tx+tw},${ty} ${tx+tw},${ty+3} V${ty+th-3} Q${tx+tw},${ty+th} ${tx+tw-3},${ty+th} H${ax+6} L${ax},${ty+th+6} L${ax-6},${ty+th} H${tx+3} Q${tx},${ty+th} ${tx},${ty+th-3} V${ty+3} Q${tx},${ty} ${tx+3},${ty} Z`)
  .attr("fill","#fff").attr("fill-opacity",0.97).attr("stroke","#d8d8d8").attr("stroke-width",1).attr("filter","url(#sh)");
tt.append("text").attr("x",tx+6.5).attr("y",ty+14).attr("font-size",8.6).attr("fill","#555").text(tooltipHeader);
tt.append("circle").attr("cx",tx+11).attr("cy",ty+22.7).attr("r",3.6).attr("fill",colors[seriesNames.indexOf(tooltipSeries)]);
const t2 = tt.append("text").attr("x",tx+18).attr("y",ty+26.6).attr("font-size",11).attr("fill","#333");
t2.append("tspan").text(tooltipSeries+": ");
t2.append("tspan").attr("font-weight","bold").text(tooltipValue.toFixed(2)+"%");

// legend
const gLeg = svg.append("g");
let cx = 0;
const items = [];
const gap = 16.5;
seriesNames.forEach((n,i)=>{
  const g = gLeg.append("g");
  g.append("rect").attr("x",0).attr("y",-2).attr("width",12.5).attr("height",4).attr("rx",2).attr("fill",colors[i]);
  const t = g.append("text").attr("x",16).attr("y",3.7).attr("font-size",10.3).attr("fill","#333").text(n);
  const w = t.node().getComputedTextLength();
  items.push({g,x:cx});
  cx += 16 + w + gap;
});
const total = cx - gap;
const startX = 544.5 - total/2;
items.forEach(it=>it.g.attr("transform",`translate(${startX+it.x},332)`));
</script>
</body></html>
